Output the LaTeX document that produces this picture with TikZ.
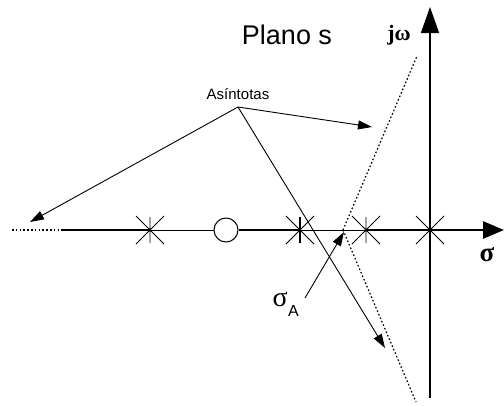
\documentclass[tikz,border=0pt]{standalone}
\usepackage{fontspec}
\setmainfont{Liberation Sans}
\newfontfamily\symfont{Liberation Serif}
\usetikzlibrary{arrows.meta}
\tikzset{
  thinline/.style={line width=1pt},
  thickline/.style={line width=2.8pt},
  asym/.style={line width=1.2pt, dash pattern=on 1.6pt off 2.2pt},
  pointer/.style={line width=0.9pt, -{Triangle[length=14pt,width=9pt]}},
  polemark/.pic={\draw[line width=0.8pt] (-14,-14)--(14,14) (-14,14)--(14,-14) (0,-13)--(0,13);},
  lbl/.style={inner sep=0pt, font=\fontsize{20}{24}\selectfont},
}
\begin{document}
\begin{tikzpicture}[x=1pt,y=-1pt]
\useasboundingbox (0,0) rectangle (504,407);
% coordinates on the real axis
\coordinate (L0) at (12,230);
\coordinate (L1) at (62,230);
\coordinate (p1) at (150,230);
\coordinate (p2) at (300,230);
\coordinate (p3) at (366,230);
\coordinate (p4) at (430,230);
\coordinate (xend) at (504,230);
\coordinate (vb) at (430,398);
\coordinate (vt) at (430,7);
\coordinate (cA) at (343,230);
\coordinate (aup) at (417,56);
\coordinate (adn) at (416,402);
% real axis
\draw[asym, line width=1.3pt] (L0) -- (L1);
\draw[thickline] (L1) -- (p1);
\node[circle, draw, line width=1pt, minimum size=24pt, inner sep=0pt] (z) at (226,230) {};
\draw[thinline] (p1) -- (z);
\draw[thickline] (z) -- (p2);
\draw[thinline] (p2) -- (p3);
\draw[thickline, -{Triangle[length=21pt,width=17pt]}] (p3) -- (xend);
% imaginary axis
\draw[line width=1.4pt, -{Triangle[length=26pt,width=18pt]}] (vb) -- (vt);
% poles
\pic at (p1) {polemark};
\pic at (p2) {polemark};
\pic at (p3) {polemark};
\pic at (p4) {polemark};
\draw[line width=2.4pt] (300,217) -- (300,243);
% asymptotes
\draw[asym] (cA) -- (aup);
\draw[asym] (cA) -- (adn);
% labels
\node[lbl, font=\fontsize{27}{31}\selectfont] (plano) at (287,35) {Plano s};
\node[lbl, font=\fontsize{22}{26}\selectfont\symfont\bfseries] (jw) at (399,35) {jω};
\node[lbl, font=\fontsize{27}{30}\selectfont\symfont\bfseries] (sig) at (487,255) {σ};
\node[lbl, font=\fontsize{15}{18}\selectfont] (asin) at (238,94) {Asíntotas};
\node[lbl, anchor=east, font=\fontsize{28}{32}\selectfont\symfont] (sa) at (288,299) {σ};
\node[lbl, anchor=west, font=\fontsize{16}{18}\selectfont] (saA) at (sa.east) [yshift=-12pt] {A};
\coordinate (ap) at (238,107);
\coordinate (t1) at (30,222);
\coordinate (t2) at (372,127);
\coordinate (t3) at (385,348);
\coordinate (sas) at (305,298);
\coordinate (sat) at (344,232);
\draw[pointer] (ap) -- (t1);
\draw[pointer] (ap) -- (t2);
\draw[pointer] (ap) -- (t3);
\draw[pointer] (sas) -- (sat);
\end{tikzpicture}
\end{document}
